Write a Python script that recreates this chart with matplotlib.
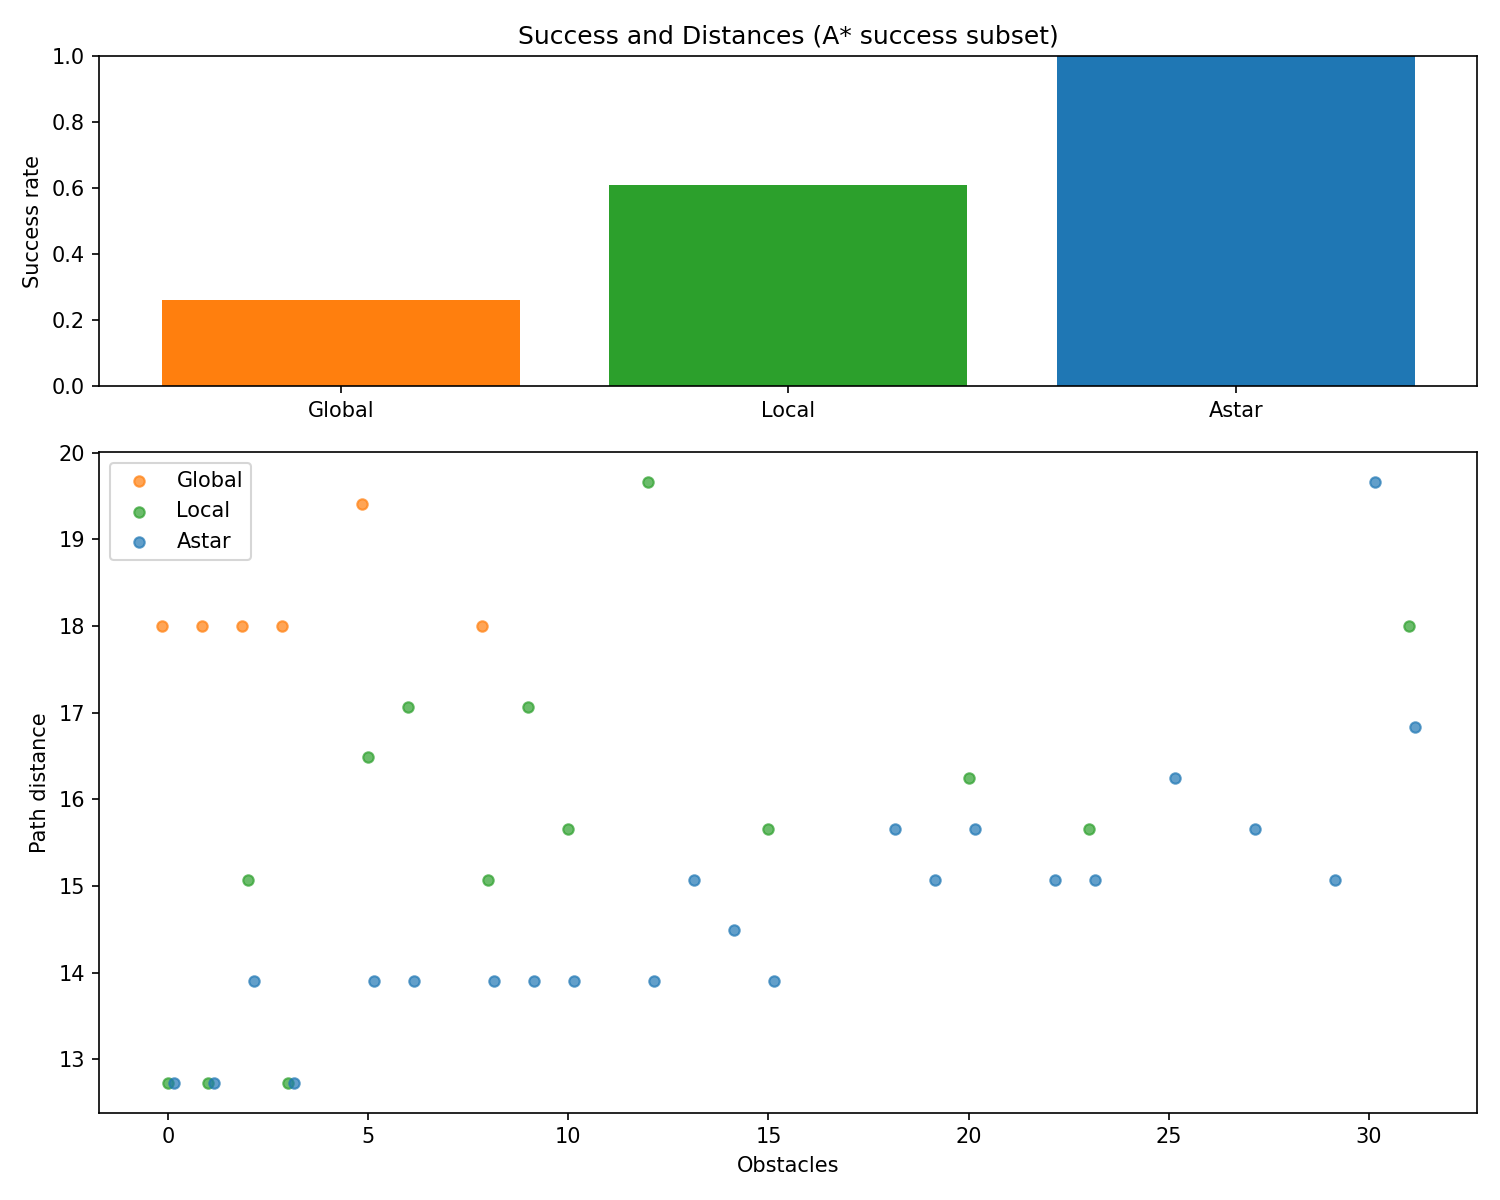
import matplotlib
matplotlib.use("Agg")
import matplotlib.pyplot as plt

# success rates
methods = ["Global", "Local", "Astar"]
success = [0.26, 0.61, 1.0]
colors = ["tab:orange", "tab:green", "tab:blue"]

# path distances per obstacle count
global_x = [0, 1, 2, 3, 5, 8]
global_d = [18.0, 18.0, 18.0, 18.0, 19.41, 18.0]

local_x = [0, 1, 2, 3, 5, 6, 8, 9, 10, 12, 15, 20, 23, 31]
local_d = [12.73, 12.73, 15.07, 12.73, 16.49, 17.07, 15.07, 17.07, 15.66,
           19.66, 15.66, 16.24, 15.66, 18.0]

astar_x = [0, 1, 2, 3, 5, 6, 8, 9, 10, 12, 13, 14, 15, 18, 19, 20, 22, 23,
           25, 27, 29, 30, 31]
astar_d = [12.73, 12.73, 13.90, 12.73, 13.90, 13.90, 13.90, 13.90, 13.90,
           13.90, 15.07, 14.49, 13.90, 15.66, 15.07, 15.66, 15.07, 15.07,
           16.24, 15.66, 15.07, 19.66, 16.83]

fig, (ax1, ax2) = plt.subplots(2, 1, figsize=(10, 8),
                               gridspec_kw={"height_ratios": [1, 2]})

ax1.bar(methods, success, color=colors)
ax1.set_ylim(0, 1)
ax1.set_ylabel("Success rate")
ax1.set_title("Success and Distances (A* success subset)")

ax2.scatter([x - 0.15 for x in global_x], global_d, s=25, alpha=0.7,
            color="tab:orange", label="Global")
ax2.scatter(local_x, local_d, s=25, alpha=0.7, color="tab:green", label="Local")
ax2.scatter([x + 0.15 for x in astar_x], astar_d, s=25, alpha=0.7,
            color="tab:blue", label="Astar")
ax2.set_xlabel("Obstacles")
ax2.set_ylabel("Path distance")
ax2.legend(loc="upper left")

fig.tight_layout()
fig.savefig("out.png", dpi=150)
